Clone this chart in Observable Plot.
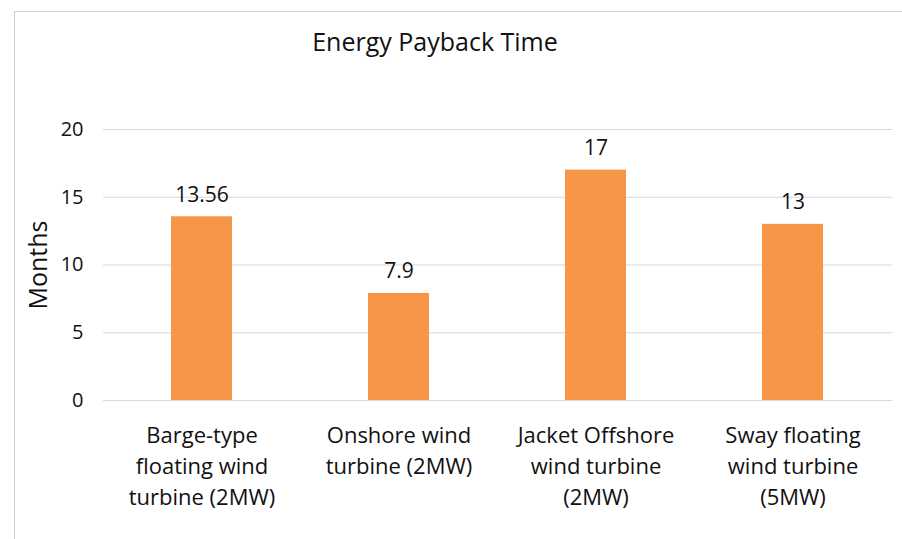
<!DOCTYPE html>
<html>
<head>
<meta charset="utf-8">
<script src="https://cdn.jsdelivr.net/npm/d3@7"></script>
<script src="https://cdn.jsdelivr.net/npm/@observablehq/plot@0.6"></script>
<style>
  html, body { margin: 0; padding: 0; background: #fff; }
  #wrap { position: relative; width: 902px; height: 539px; overflow: hidden; font-family: "Open Sans", sans-serif; }
  #frame { position: absolute; left: 14px; top: 11px; width: 900px; height: 540px; border-left: 1px solid #cfcfcf; border-top: 1px solid #cfcfcf; }
  #title { position: absolute; left: 0; width: 870px; top: 29px; text-align: center; font-size: 25px; line-height: 25px; color: #111; }
  #chart { position: absolute; left: 0; top: 0; }
</style>
</head>
<body>
<div id="wrap">
  <div id="frame"></div>
  <div id="chart"></div>
  <div id="title">Energy Payback Time</div>
</div>
<script>
const categories = [
  "Barge-type\nfloating wind\nturbine (2MW)",
  "Onshore wind\nturbine (2MW)",
  "Jacket Offshore\nwind turbine\n(2MW)",
  "Sway floating\nwind turbine\n(5MW)"
];
const values = [13.56, 7.9, 17, 13];
const valueLabels = ["13.56", "7.9", "17", "13"];
const yTicks = [0, 5, 10, 15, 20];

const data = categories.map((c, i) => ({cat: c, value: values[i], label: valueLabels[i]}));

const chart = Plot.plot({
  width: 902,
  height: 539,
  marginLeft: 103,
  marginRight: 10,
  marginTop: 129,
  marginBottom: 139,
  style: {fontFamily: "'Open Sans', sans-serif", color: "#111", background: "transparent"},
  x: {domain: categories, paddingInner: 0.69, paddingOuter: 0.345},
  y: {domain: [0, 20]},
  marks: [
    Plot.gridY(yTicks, {stroke: "#d9d9d9", strokeOpacity: 1, strokeWidth: 1.2}),
    Plot.barY(data, {x: "cat", y: "value", fill: "#F79646"}),
    Plot.text(data, {x: "cat", y: "value", text: "label", dy: -15, lineAnchor: "bottom", fontSize: 21, fill: "#111"}),
    Plot.axisX({tickSize: 0, tickPadding: 20, fontSize: 22, lineHeight: 1.41, label: null, fill: "#111"}),
    Plot.axisY({ticks: yTicks, tickSize: 0, tickPadding: 20, fontSize: 20, label: null, fill: "#111"}),
    Plot.text(["Months"], {frameAnchor: "left", textAnchor: "middle", lineAnchor: "middle", rotate: -90, dx: -65, fontSize: 25, fill: "#111"})
  ]
});
document.getElementById("chart").appendChild(chart);
</script>
</body>
</html>
